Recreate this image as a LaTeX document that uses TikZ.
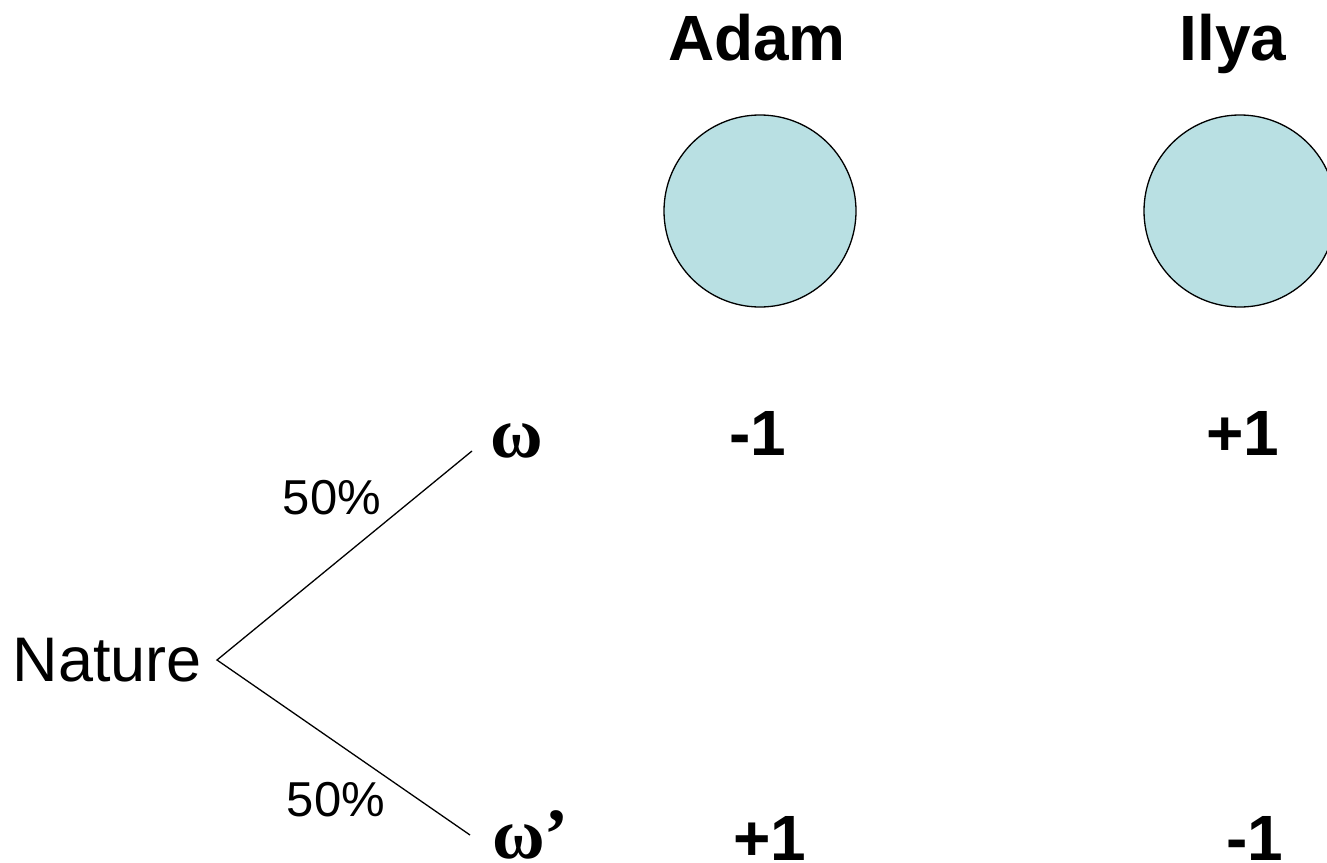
\documentclass[tikz,border=0pt]{standalone}
\usepackage{fontspec}
\setmainfont{Liberation Sans}
\newfontfamily\serifbf{Liberation Serif}
\definecolor{ballfill}{RGB}{185,224,227}
\begin{document}
\begin{tikzpicture}[x=1pt,y=-1pt,
  big/.style={font=\fontsize{64}{70}\selectfont\bfseries, inner sep=0pt, anchor=base},
  reg/.style={font=\fontsize{63}{68}\selectfont, inner sep=0pt},
  pct/.style={font=\fontsize{49}{55}\selectfont, inner sep=0pt},
  om/.style={font=\fontsize{72}{78}\selectfont\serifbf\bfseries, inner sep=0pt},
  ball/.style={circle, draw=black, line width=1.3pt, fill=ballfill, minimum size=192pt, inner sep=0pt},
  branch/.style={draw=black, line width=1.3pt}]
\useasboundingbox (0,0) rectangle (1327,862);
\node[big] (adam) at (757,60) {Adam};
\node[big] (ilya) at (1233,60) {Ilya};
\node[ball] (ballA) at (760,211) {};
\node[ball] (ballI) at (1240,211) {};
\node[big] (a1) at (758,455) {-1};
\node[big] (i1) at (1243,455) {+1};
\node[big] (a2) at (770,860) {+1};
\node[big] (i2) at (1255,860) {-1};
\node[reg, anchor=east] (nature) at (202,660) {Nature};
\coordinate (root) at (217,660);
\coordinate (up) at (472,451);
\coordinate (dn) at (470,835);
\draw[branch] (up) -- (root) -- (dn);
\node[om, anchor=base] (w) at (517,457) {ω};
\node[om, anchor=base west] (w2) at (492,858) {ω’};
\node[pct] (p1) at (332,498) {50\%};
\node[pct] (p2) at (336,800) {50\%};
\end{tikzpicture}
\end{document}
